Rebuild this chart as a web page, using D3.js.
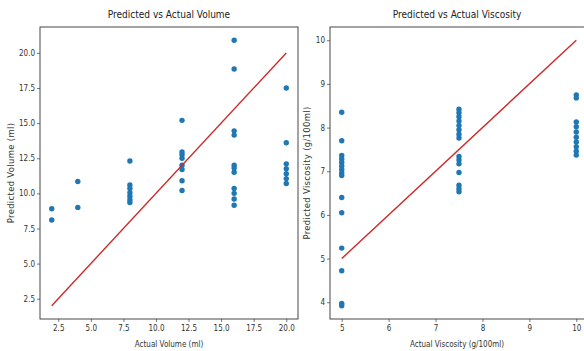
<!DOCTYPE html>
<html>
<head>
<meta charset="utf-8">
<script src="https://cdn.jsdelivr.net/npm/d3@7"></script>
<style>
  html, body { margin: 0; padding: 0; background: #fff; }
  svg { display: block; }
  .narrow { font-family: "Liberation Sans Narrow", "DejaVu Sans Condensed", "Arial Narrow", sans-serif; }
</style>
</head>
<body>
<svg id="chart" width="584" height="351"></svg>
<script>
// Predicted vs actual volume (ml)
const volumeActual = [2, 4, 8, 12, 16, 20];
const volumePredicted = [
  [8.9, 8.1],
  [10.85, 9.0],
  [12.3, 10.6, 10.35, 10.05, 9.8, 9.55, 9.35],
  [15.2, 12.95, 12.75, 12.5, 12.0, 11.7, 10.9, 10.2],
  [20.9, 18.85, 14.45, 14.15, 12.0, 11.8, 11.5, 10.35, 10.0, 9.6, 9.15],
  [17.5, 13.6, 12.1, 11.75, 11.4, 11.05, 10.7],
];
const volumeTicks = [2.5, 5.0, 7.5, 10.0, 12.5, 15.0, 17.5, 20.0];

// Predicted vs actual viscosity (g/100ml)
const viscActual = [5, 7.5, 10];
const viscPredicted = [
  [8.35, 7.7, 7.36, 7.28, 7.2, 7.12, 7.04, 6.96, 6.9, 6.4, 6.05, 5.24, 4.72, 3.97, 3.92],
  [8.42, 8.34, 8.25, 8.15, 8.05, 7.95, 7.85, 7.76, 7.34, 7.26, 7.17, 6.97, 6.68, 6.6, 6.53],
  [8.75, 8.68, 8.13, 8.02, 7.9, 7.78, 7.67, 7.56, 7.46, 7.37],
];
const viscXTicks = [5, 6, 7, 8, 9, 10];
const viscYTicks = [4, 5, 6, 7, 8, 9, 10];

const svg = d3.select("#chart");
const plotTop = 27, plotBottom = 319;

function flatten(actual, predicted) {
  return actual.flatMap((a, i) => predicted[i].map((p) => ({ x: a, y: p })));
}

// matplotlib-style 5% autoscale margin
function padded(values) {
  const [lo, hi] = d3.extent(values);
  const pad = (hi - lo) * 0.05;
  return [lo - pad, hi + pad];
}

function drawPanel(cfg) {
  const points = flatten(cfg.actual, cfg.predicted);
  const diag = d3.extent(cfg.actual);
  const x = d3.scaleLinear()
    .domain(padded([...points.map((d) => d.x), ...diag]))
    .range([cfg.left, cfg.right]);
  const y = d3.scaleLinear()
    .domain(padded([...points.map((d) => d.y), ...diag]))
    .range([plotBottom, plotTop]);

  const g = svg.append("g");

  g.append("g")
    .selectAll("circle")
    .data(points)
    .join("circle")
    .attr("cx", (d) => x(d.x))
    .attr("cy", (d) => y(d.y))
    .attr("r", 2.7)
    .attr("fill", "#1f77b4");

  g.append("line")
    .attr("x1", x(diag[0]))
    .attr("y1", y(diag[0]))
    .attr("x2", x(diag[1]))
    .attr("y2", y(diag[1]))
    .attr("stroke", "#cc2a2a")
    .attr("stroke-width", 1.4);

  const xAxis = g.append("g")
    .attr("transform", `translate(0,${plotBottom})`)
    .call(d3.axisBottom(x).tickValues(cfg.xTicks).tickFormat(cfg.xFormat).tickSize(3).tickPadding(3));
  const yAxis = g.append("g")
    .attr("transform", `translate(${cfg.left},0)`)
    .call(d3.axisLeft(y).tickValues(cfg.yTicks).tickFormat(cfg.yFormat).tickSize(3).tickPadding(2));

  for (const ax of [xAxis, yAxis]) {
    ax.select(".domain").remove();
    ax.selectAll("line").attr("stroke", "#555").attr("stroke-width", 0.8);
    ax.selectAll("text")
      .attr("class", "narrow")
      .attr("font-size", 8)
      .attr("fill", "#333");
  }

  g.append("rect")
    .attr("x", cfg.left)
    .attr("y", plotTop)
    .attr("width", cfg.right - cfg.left)
    .attr("height", plotBottom - plotTop)
    .attr("fill", "none")
    .attr("stroke", "#333")
    .attr("stroke-width", 0.9);

  const cx = (cfg.left + cfg.right) / 2;
  g.append("text")
    .attr("class", "narrow")
    .attr("x", cfg.titleX ?? cx)
    .attr("y", 18)
    .attr("text-anchor", "middle")
    .attr("font-size", 10)
    .attr("fill", "#222")
    .text(cfg.title);

  g.append("text")
    .attr("class", "narrow")
    .attr("x", cfg.titleX ?? cx)
    .attr("y", 347)
    .attr("text-anchor", "middle")
    .attr("font-size", 8)
    .attr("fill", "#333")
    .text(cfg.xLabel);

  g.append("text")
    .attr("transform", `translate(${cfg.yLabelX},${(plotTop + plotBottom) / 2}) rotate(-90)`)
    .attr("text-anchor", "middle")
    .attr("font-family", "DejaVu Sans, sans-serif")
    .attr("font-size", 8.5)
    .attr("letter-spacing", 0.3)
    .attr("fill", "#333")
    .text(cfg.yLabel);
}

drawPanel({
  actual: volumeActual,
  predicted: volumePredicted,
  left: 40,
  right: 298,
  xTicks: volumeTicks,
  yTicks: volumeTicks,
  xFormat: d3.format(".1f"),
  yFormat: d3.format(".1f"),
  title: "Predicted vs Actual Volume",
  xLabel: "Actual Volume (ml)",
  yLabel: "Predicted Volume (ml)",
  yLabelX: 14,
});

drawPanel({
  actual: viscActual,
  predicted: viscPredicted,
  left: 330,
  right: 588,
  xTicks: viscXTicks,
  yTicks: viscYTicks,
  xFormat: d3.format("d"),
  yFormat: d3.format("d"),
  title: "Predicted vs Actual Viscosity",
  titleX: 457,
  xLabel: "Actual Viscosity (g/100ml)",
  yLabel: "Predicted Viscosity (g/100ml)",
  yLabelX: 310,
});
</script>
</body>
</html>
